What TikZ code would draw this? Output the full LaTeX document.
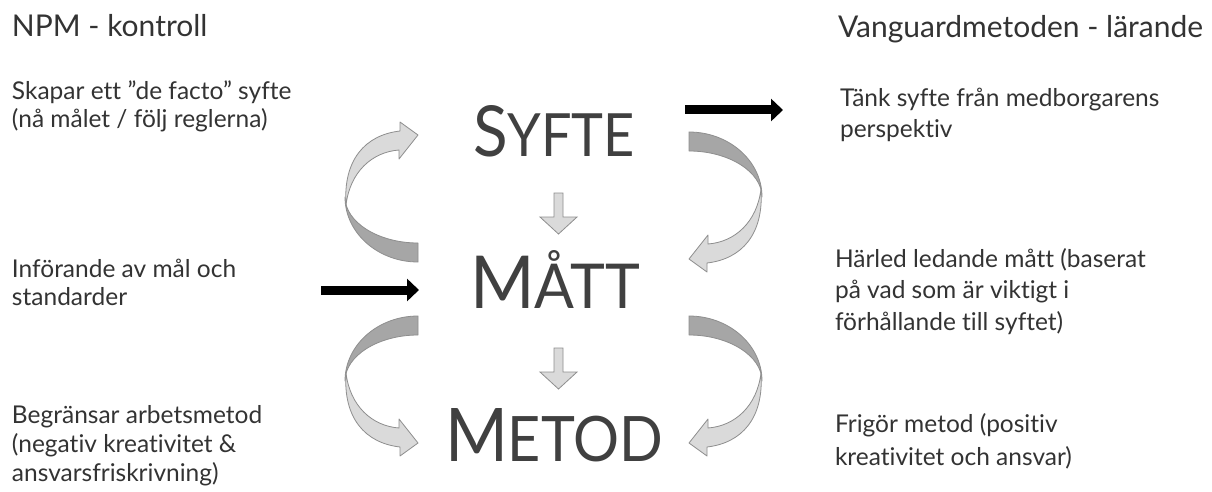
\documentclass[tikz,border=0pt]{standalone}
\usepackage{fontspec}
\setmainfont{Lato}[Ligatures={NoCommon}]
\usepackage{graphicx}
\usetikzlibrary{arrows.meta}
\definecolor{txt}{HTML}{333333}
\definecolor{bigtxt}{HTML}{404040}
\definecolor{cdark}{HTML}{A6A6A6}
\definecolor{clight}{HTML}{DADADA}
\definecolor{cedge}{HTML}{8E8E8E}
\newcommand\mylines[2]{{\fontsize{24.5}{#1}\selectfont\begin{tabular}[t]{@{}l@{}}#2\end{tabular}}}
\newcommand\curvedarrowshape{%
  \draw[backpart] (418,262) .. controls (378,262) and (345,233) .. (345,197)
     .. controls (345,222) and (378,243) .. (418,243) -- cycle;
  \draw[frontpart] (346,205) .. controls (343,160) and (365,135) .. (400,131)
     -- (400,122) -- (418,135) -- (399,159) -- (399,150)
     .. controls (372,152) and (350,172) .. (346,205) -- cycle;
}
\tikzset{
  txtlbl/.style={anchor=base west, inner sep=0pt, outer sep=0pt, text=txt},
  ttl/.style={anchor=base west, inner sep=0pt, outer sep=0pt, text=txt, font=\fontsize{30}{34}\selectfont},
  bigword/.style={anchor=base west, inner sep=0pt, outer sep=0pt, text=bigtxt},
  backpart/.style={fill=cdark, draw=cedge, line width=0.8pt, line join=round},
  frontpart/.style={fill=clight, draw=cedge, line width=0.8pt, line join=round},
  blackarrow/.style={line width=9pt, -{Triangle[length=12pt,width=22pt]}, black},
  downarrow/.style={fill=clight, draw=cedge, line width=0.8pt, line join=miter},
}
\begin{document}
\begin{tikzpicture}[x=1pt,y=-1pt]
\useasboundingbox (0,0) rectangle (1212,492);
\fill[white] (0,0) rectangle (1212,492);

% titles
\node[ttl] (tleft) at (12,37) {NPM - kontroll};
\node[ttl] (tright) at (838,38) {Vanguardmetoden - lärande};

% left texts
\node[txtlbl] (l1) at (12,100) {\mylines{28}{Skapar ett \symbol{34}de facto\symbol{34} syfte\\(nå målet / följ reglerna)}};
\node[txtlbl] (l2) at (12,277) {\mylines{28}{Införande av mål och\\standarder}};
\node[txtlbl] (l3) at (12,423) {\mylines{29}{Begränsar arbetsmetod\\(negativ kreativitet \&\\ansvarsfriskrivning)}};

% right texts
\node[txtlbl] (r1) at (840,107) {\mylines{31}{Tänk syfte från medborgarens\\perspektiv}};
\node[txtlbl] (r2) at (835,267) {\mylines{31.5}{Härled ledande mått (baserat\\på vad som är viktigt i\\förhållande till syftet)}};
\node[txtlbl] (r3) at (835,432) {\mylines{33}{Frigör metod (positiv\\kreativitet och ansvar)}};

% central words
\node[bigword] (syfte) at (473,156) {\resizebox{162pt}{51pt}{\fontsize{72}{72}\selectfont S\fontsize{61}{61}\selectfont YFTE}};
\node[bigword] (matt) at (470,308) {\resizebox{170pt}{58pt}{\fontsize{72}{72}\selectfont M\fontsize{61}{61}\selectfont ÅTT}};
\node[bigword] (metod) at (445,461) {\resizebox{218pt}{53pt}{\fontsize{72}{72}\selectfont M\fontsize{61}{61}\selectfont ETOD}};

% small down arrows
\draw[downarrow] (554,193) -- (563,193) -- (563,217) -- (577,217) -- (558.5,234)
   -- (540,217) -- (554,217) -- cycle;
\begin{scope}[shift={(0,155)}]
\draw[downarrow] (554,193) -- (563,193) -- (563,217) -- (577,217) -- (558.5,234)
   -- (540,217) -- (554,217) -- cycle;
\end{scope}

% curved arrows
\curvedarrowshape
\begin{scope}[shift={(1107,394)}, xscale=-1, yscale=-1]
\curvedarrowshape
\end{scope}
\begin{scope}[shift={(0,578)}, yscale=-1]
\curvedarrowshape
\end{scope}
\begin{scope}[shift={(1107,578)}, xscale=-1, yscale=-1]
\curvedarrowshape
\end{scope}

% black arrows
\coordinate (ba1s) at (685,110);
\coordinate (ba1e) at (783,110);
\draw[blackarrow] (ba1s) -- (ba1e);
\coordinate (ba2s) at (321,290);
\coordinate (ba2e) at (419,290);
\draw[blackarrow] (ba2s) -- (ba2e);
\end{tikzpicture}
\end{document}
